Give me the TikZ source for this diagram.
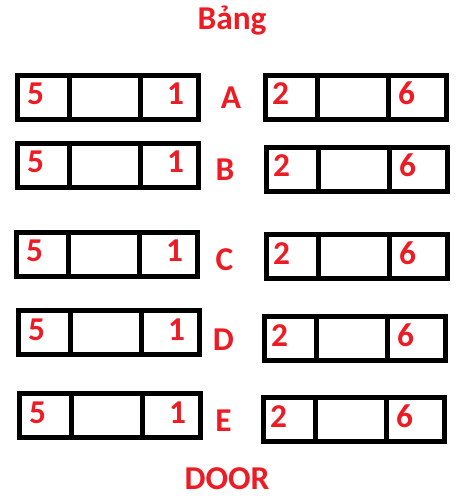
\documentclass[tikz,border=0pt]{standalone}
\usepackage{fontspec}
\setmainfont{Carlito}
\usepackage{xcolor}
\definecolor{rosso}{HTML}{ED1C24}
\tikzset{
  banco/.style={draw=black, line width=3.75pt},
  cifra/.style={text=rosso, font=\bfseries\fontsize{25}{25}\selectfont, inner sep=0pt, anchor=base},
  lettera/.style={text=rosso, font=\bfseries\fontsize{25}{25}\selectfont, inner sep=0pt},
}

\begin{document}
\begin{tikzpicture}[x=0.75pt, y=-0.75pt]
            \useasboundingbox (0,0) rectangle (467,498);

            % Titolo
            \node[lettera, anchor=base] (bang) at (232,30) {Bảng};

            % Banchi
            \foreach \r/\lx/\ly/\rx/\ry/\cx/\cy in {A/17.5/75.5/265.5/75.5/231/97.5,
                    B/17.5/143.5/266.5/147.5/225/169.5,
                    C/16.5/232.5/266.5/234.5/224.5/260,
                    D/18.5/310.5/264.5/316.5/223.5/340,
                    E/19.5/393.5/263.5/397.5/223.5/421} {
                    % sinistra
                    \draw[banco] (\lx,\ly) rectangle ++(181,44);
                    \draw[banco] (\lx+52,\ly) -- ++(0,44);
                    \draw[banco] (\lx+123,\ly) -- ++(0,44);
                    \node[cifra] (\r-5) at (\lx+18,\ly+29.5) {5};
                    \node[cifra] (\r-1) at (\lx+158,\ly+29.5) {1};
                    % destra
                    \draw[banco] (\rx,\ry) rectangle ++(181,44);
                    \draw[banco] (\rx+52,\ry) -- ++(0,44);
                    \draw[banco] (\rx+123,\ry) -- ++(0,44);
                    \node[cifra] (\r-2) at (\rx+15,\ry+29.5) {2};
                    \node[cifra] (\r-6) at (\rx+141,\ry+29.5) {6};
                    % fila
                    \node[lettera] (\r) at (\cx,\cy) {\r};
                }

            % Porta
            \node[lettera, anchor=base] (door) at (227,489) {DOOR};
        \end{tikzpicture}
\end{document}
